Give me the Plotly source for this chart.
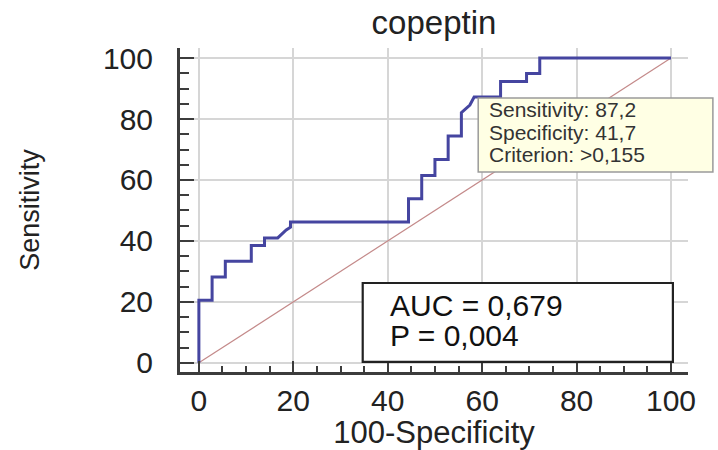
import plotly.graph_objects as go

# ROC curve vertices (100-Specificity, Sensitivity)
fpr = [0, 0, 2.8, 2.8, 5.6, 5.6, 11.1, 11.1, 13.9, 13.9, 16.7, 18.5, 19.4, 19.4,
       44.4, 44.4, 47.2, 47.2, 50.0, 50.0, 52.8, 52.8, 55.6, 55.6, 57.4, 58.3,
       63.9, 63.9, 69.4, 69.4, 72.2, 72.2, 100]
tpr = [0, 20.5, 20.5, 28.2, 28.2, 33.3, 33.3, 38.5, 38.5, 41.0, 41.0, 43.6, 44.5, 46.2,
       46.2, 53.8, 53.8, 61.5, 61.5, 66.7, 66.7, 74.4, 74.4, 82.1, 84.6, 87.2,
       87.2, 92.3, 92.3, 94.9, 94.9, 100, 100]
diag_x = [0, 100]
diag_y = [0, 100]

title_text = "copeptin"
x_title = "100-Specificity"
y_title = "Sensitivity"
tick_vals = [0, 20, 40, 60, 80, 100]
auc_lines = ["AUC = 0,679", "P = 0,004"]
tip_lines = ["Sensitivity: 87,2", "Specificity: 41,7", "Criterion: >0,155"]

FONT = "Liberation Sans, Arial, sans-serif"
AX = "#3c3c3c"

fig = go.Figure()
fig.add_trace(go.Scatter(x=diag_x, y=diag_y, mode="lines",
                         line=dict(color="#c48a8a", width=1.2), hoverinfo="skip"))
fig.add_trace(go.Scatter(x=fpr, y=tpr, mode="lines",
                         line=dict(color="#4545a0", width=3), hoverinfo="skip"))

# AUC box
fig.add_shape(type="rect", xref="x", yref="y", x0=34.7, x1=100.4, y0=0.3, y1=26.2,
              line=dict(color="#222", width=2.2), fillcolor="white", layer="above")
for txt, yy in zip(auc_lines, [18.9, 8.9]):
    fig.add_annotation(x=40.0, y=yy, xref="x", yref="y", xanchor="left", yanchor="middle",
                       text=txt, showarrow=False,
                       font=dict(family=FONT, size=30, color="#111"))

# tooltip box
fig.add_shape(type="rect", xref="paper", yref="paper", x0=0.587, x1=1.049, y0=0.617, y1=0.846,
              line=dict(color="#9a9a9a", width=1.5), fillcolor="#ffffe4", layer="above")
for txt, yy in zip(tip_lines, [83.0, 75.7, 68.5]):
    fig.add_annotation(x=61.0, y=yy, xref="x", yref="y", xanchor="left", yanchor="middle",
                       text=txt, showarrow=False,
                       font=dict(family=FONT, size=21, color="#333"))

fig.update_layout(
    width=718, height=450,
    margin=dict(l=180, r=30, t=48, b=78, autoexpand=False),
    paper_bgcolor="white", plot_bgcolor="white",
    showlegend=False,
    title=dict(text=title_text, x=434/718, xanchor="center", y=1-22/450, yanchor="middle",
               yref="container", xref="container",
               font=dict(family=FONT, size=33, color="#222")),
    font=dict(family=FONT),
)

fig.update_xaxes(range=[-4, 103.6], tickvals=tick_vals, ticks="inside", ticklen=11,
                 tickwidth=2, tickcolor=AX, showline=True, linecolor=AX, linewidth=3,
                 showgrid=True, gridcolor="#d6d6d6", gridwidth=1.5, zeroline=False,
                 tickfont=dict(family=FONT, size=30, color="#222"),
                 ticklabelstandoff=0,
                 minor=dict(dtick=5, tick0=0, ticks="inside", ticklen=6, tickwidth=1.5,
                            tickcolor=AX, showgrid=False),
                 title=dict(text=x_title, font=dict(family=FONT, size=31, color="#222"),
                            standoff=6))
fig.update_yaxes(range=[-3, 103.3], tickvals=tick_vals, ticks="inside", ticklen=14,
                 tickwidth=2, tickcolor=AX, showline=True, linecolor=AX, linewidth=3,
                 showgrid=True, gridcolor="#d6d6d6", gridwidth=1.5, zeroline=False,
                 tickfont=dict(family=FONT, size=30, color="#222"),
                 ticklabelstandoff=18,
                 minor=dict(dtick=5, tick0=0, ticks="inside", ticklen=9, tickwidth=1.5,
                            tickcolor=AX, showgrid=False),
                 title=dict(text=y_title, font=dict(family=FONT, size=27, color="#222"),
                            standoff=56))

fig.write_html("out.html", config={"displayModeBar": False},
               post_script="document.body.style.margin='0';document.body.style.overflow='hidden';")
